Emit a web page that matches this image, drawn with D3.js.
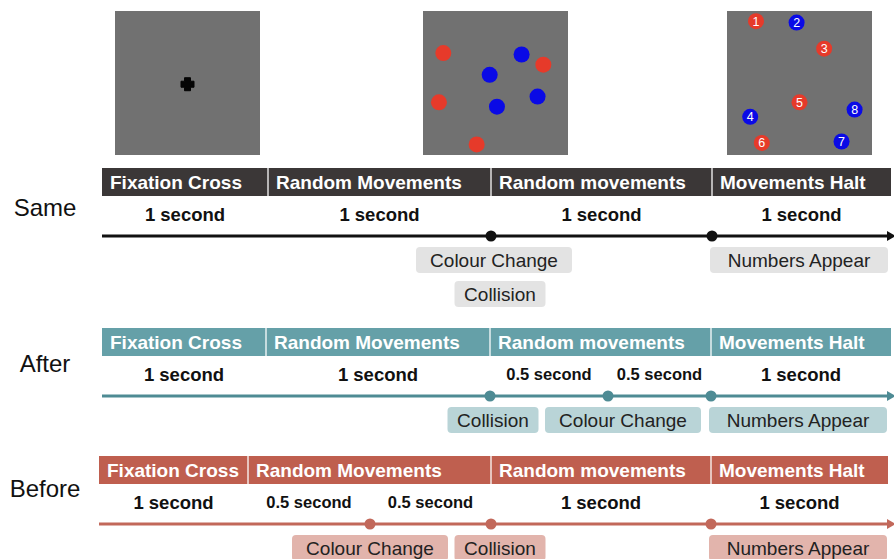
<!DOCTYPE html>
<html>
<head>
<meta charset="utf-8">
<script src="https://cdn.jsdelivr.net/npm/d3@7"></script>
<style>
  html, body { margin: 0; padding: 0; background: #fff; }
  svg { display: block; font-family: "Liberation Sans", Arial, sans-serif; }
</style>
</head>
<body>
<svg id="chart" width="894" height="559"></svg>
<script>
// ---- data ----
const conditions = ['Same', 'After', 'Before'];
const phaseNames = ['Fixation Cross', 'Random Movements', 'Random movements', 'Movements Halt'];
const phaseTimes = [0, 1, 2, 3, 4];

// durations shown under the headers: [from, to, label]
const sameDurations = [[0, 1, '1 second'], [1, 2, '1 second'], [2, 3, '1 second'], [3, 4, '1 second']];
const afterDurations = [[0, 1, '1 second'], [1, 2, '1 second'], [2, 2.5, '0.5 second'], [2.5, 3, '0.5 second'], [3, 4, '1 second']];
const beforeDurations = [[0, 1, '1 second'], [1, 1.5, '0.5 second'], [1.5, 2, '0.5 second'], [2, 3, '1 second'], [3, 4, '1 second']];

// events on the timeline: [time, label, stack level]
const sameEvents = [[2, 'Colour Change', 0], [2, 'Collision', 1], [3, 'Numbers Appear', 0]];
const afterEvents = [[2, 'Collision', 0], [2.5, 'Colour Change', 0], [3, 'Numbers Appear', 0]];
const beforeEvents = [[1.5, 'Colour Change', 0], [2, 'Collision', 0], [3, 'Numbers Appear', 0]];

// stimulus panels (positions in % of the panel)
const movingRed = [[14, 29], [83, 37], [11, 63], [37, 92]];
const movingBlue = [[68, 30], [46, 44], [51, 66], [79, 59]];
const numbered = [[1, 'red', 20, 7], [2, 'blue', 48, 8], [3, 'red', 67, 26], [4, 'blue', 16, 73],
                  [5, 'red', 50, 63], [6, 'red', 24, 91], [7, 'blue', 79, 90], [8, 'blue', 88, 68]];

// ---- layout / style ----
const svg = d3.select('#chart');
const rowTop = [168, 328, 456];
const labelY = [216, 372, 497];
const knots = [
  { d: [0, 1, 2, 3, 4], r: [102, 268, 491, 712, 891] },
  { d: [0, 1, 2, 2.5, 3, 4], r: [102, 266, 490, 608, 711, 891] },
  { d: [0, 1, 1.5, 2, 3, 4], r: [99, 248, 370, 491, 711, 888] }
];
const theme = [
  { head: '#3b3737', line: '#111111', box: '#e3e3e3' },
  { head: '#65a0a8', line: '#4e8b94', box: '#b9d4d7' },
  { head: '#bf5f4f', line: '#c2685a', box: '#e2b4ac' }
];
const durations = [sameDurations, afterDurations, beforeDurations];
const events = [sameEvents, afterEvents, beforeEvents];
const boxW = { 'Colour Change': 156, 'Collision': 91, 'Numbers Appear': 178 };
const boxDx = [
  { 'Colour Change': 3, 'Collision': 9 },
  { 'Collision': 3, 'Colour Change': 15 },
  { 'Colour Change': 0, 'Collision': 9 }
];
const dotColor = { red: '#e63a2a', blue: '#0a0ae6' };

// ---- stimulus panels ----
const panel = (x0, y0) => {
  const g = svg.append('g').attr('transform', 'translate(' + x0 + ',' + y0 + ')');
  g.append('rect').attr('width', 145).attr('height', 144).attr('fill', '#717171');
  return g;
};
const p = d3.scaleLinear().domain([0, 100]).range([0, 145]);

const p1 = panel(115, 11);
p1.append('path')
  .attr('d', 'M-3,-6.5h6v3.5h3.5v6h-3.5v3.5h-6v-3.5h-3.5v-6h3.5z')
  .attr('transform', 'translate(' + p(50) + ',' + p(50.5) + ')')
  .attr('fill', '#050505').attr('stroke', '#050505').attr('stroke-width', 1).attr('stroke-linejoin', 'round');

const p2 = panel(423, 11);
p2.selectAll('.r').data(movingRed).enter().append('circle')
  .attr('cx', d => p(d[0])).attr('cy', d => p(d[1])).attr('r', 8).attr('fill', dotColor.red);
p2.selectAll('.b').data(movingBlue).enter().append('circle')
  .attr('cx', d => p(d[0])).attr('cy', d => p(d[1])).attr('r', 8).attr('fill', dotColor.blue);

const p3 = panel(727, 11);
const nd = p3.selectAll('g').data(numbered).enter().append('g')
  .attr('transform', d => 'translate(' + p(d[2]) + ',' + p(d[3]) + ')');
nd.append('circle').attr('r', 8).attr('fill', d => dotColor[d[1]]);
nd.append('text').text(d => d[0])
  .attr('text-anchor', 'middle').attr('dy', '0.36em')
  .attr('fill', '#fff').attr('font-size', 12.5);

// ---- timelines ----
conditions.forEach((cond, i) => {
  const x = d3.scaleLinear().domain(knots[i].d).range(knots[i].r);
  const top = rowTop[i];
  const lineY = top + 68;
  const g = svg.append('g');

  g.append('text').text(cond)
    .attr('x', 45).attr('y', labelY[i])
    .attr('text-anchor', 'middle').attr('font-size', 24).attr('fill', '#111');

  // header bar
  const phases = phaseNames.map((name, k) => ({ name, t0: phaseTimes[k], t1: phaseTimes[k + 1] }));
  g.selectAll('.phase').data(phases).enter().append('rect')
    .attr('x', d => x(d.t0)).attr('y', top)
    .attr('width', d => x(d.t1) - x(d.t0)).attr('height', 28)
    .attr('fill', theme[i].head);
  g.selectAll('.sep').data(phaseTimes.slice(1, -1)).enter().append('line')
    .attr('x1', d => x(d)).attr('x2', d => x(d))
    .attr('y1', top).attr('y2', top + 28)
    .attr('stroke', '#fff').attr('stroke-width', 1.5).attr('opacity', 0.85);
  g.selectAll('.ptext').data(phases).enter().append('text')
    .text(d => d.name)
    .attr('x', d => x(d.t0) + 8).attr('y', top + 21)
    .attr('fill', '#fff').attr('font-weight', 'bold').attr('font-size', 19);

  // durations
  g.selectAll('.dur').data(durations[i]).enter().append('text')
    .text(d => d[2])
    .attr('x', d => (x(d[0]) + x(d[1])) / 2)
    .attr('y', d => top + (d[2].startsWith('0.5') ? 52 : 53))
    .attr('text-anchor', 'middle').attr('font-weight', 'bold')
    .attr('font-size', d => d[2].startsWith('0.5') ? 16.5 : 18.5)
    .attr('fill', '#111');

  // axis line + arrow
  g.append('line')
    .attr('x1', x(0)).attr('x2', 888)
    .attr('y1', lineY).attr('y2', lineY)
    .attr('stroke', theme[i].line).attr('stroke-width', 3);
  g.append('path')
    .attr('d', 'M887,' + (lineY - 5) + 'L896,' + lineY + 'L887,' + (lineY + 5) + 'Z')
    .attr('fill', theme[i].line);

  // event dots
  const times = Array.from(new Set(events[i].map(e => e[0])));
  g.selectAll('.dot').data(times).enter().append('circle')
    .attr('cx', d => x(d)).attr('cy', lineY).attr('r', 5.5)
    .attr('fill', theme[i].line);

  // event labels
  const lab = g.selectAll('.lab').data(events[i]).enter().append('g')
    .attr('transform', d => {
      const w = boxW[d[1]];
      const left = d[1] === 'Numbers Appear' ? x(d[0]) - 2 : x(d[0]) + (boxDx[i][d[1]] || 0) - w / 2;
      return 'translate(' + left + ',' + (lineY + 11 + d[2] * 34) + ')';
    });
  lab.append('rect')
    .attr('width', d => boxW[d[1]]).attr('height', 26).attr('rx', 4)
    .attr('fill', theme[i].box);
  lab.append('text').text(d => d[1])
    .attr('x', d => boxW[d[1]] / 2).attr('y', 19.5)
    .attr('text-anchor', 'middle').attr('font-size', 19).attr('fill', '#222');
});
</script>
</body>
</html>
